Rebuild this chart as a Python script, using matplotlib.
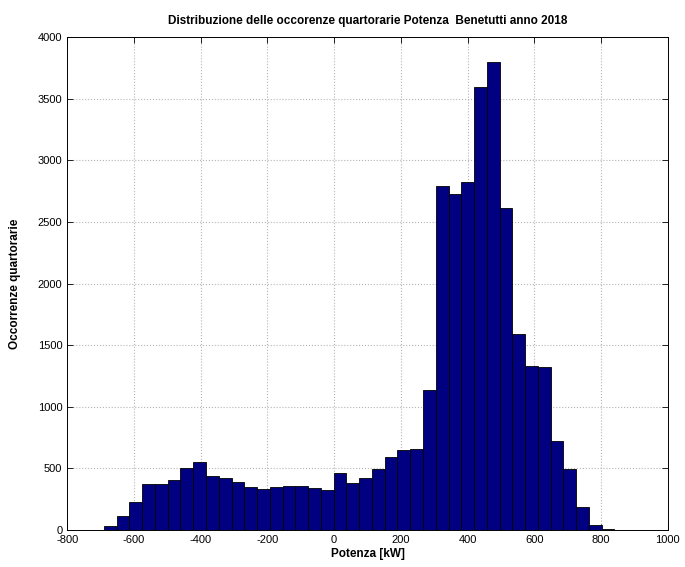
import numpy as np
import matplotlib
matplotlib.use("Agg")
import matplotlib.pyplot as plt

# conteggi per classe (hist a 40 classi, da -690 a 840 kW)
bin_start = -690.0
bin_stop = 840.0
counts = [30, 114, 230, 373, 373, 406, 500, 554, 438, 425,
          387, 352, 330, 346, 357, 357, 345, 325, 464, 381,
          420, 499, 596, 650, 654, 1133, 2788, 2729, 2823, 3597,
          3800, 2611, 1593, 1335, 1320, 722, 493, 185, 38, 6]
xticks = [-800, -600, -400, -200, 0, 200, 400, 600, 800, 1000]
yticks = [0, 500, 1000, 1500, 2000, 2500, 3000, 3500, 4000]

title = "Distribuzione delle occorenze quartorarie Potenza  Benetutti anno 2018"
xlabel = "Potenza [kW]"
ylabel = "Occorrenze quartorarie"

plt.rcParams['font.family'] = ['Liberation Sans', 'DejaVu Sans']
plt.rcParams['axes.unicode_minus'] = False

edges = np.linspace(bin_start, bin_stop, len(counts) + 1)

fig = plt.figure(figsize=(6.85, 5.67), dpi=100)
ax = fig.add_axes([0.098, 0.065, 0.877, 0.870])

ax.bar(edges[:-1], counts, width=np.diff(edges), align='edge',
       color='#000080', edgecolor='black', linewidth=0.6, zorder=3)

ax.set_xlim(-800, 1000)
ax.set_ylim(0, 4000)
ax.set_xticks(xticks)
ax.set_yticks(yticks)
ax.tick_params(direction='in', top=True, right=True, labelsize=8,
               length=4, width=0.6)
ax.grid(True, linestyle=':', color='#b4b4b4', linewidth=0.8, zorder=0)
for s in ax.spines.values():
    s.set_linewidth(0.7)

ax.set_title(title, fontsize=8.5, fontweight='bold', pad=9)
ax.set_xlabel(xlabel, fontsize=8.5, fontweight='bold', labelpad=2)
ax.set_ylabel(ylabel, fontsize=8.5, fontweight='bold', labelpad=12)

plt.savefig("out.png", dpi=100)
plt.close()
